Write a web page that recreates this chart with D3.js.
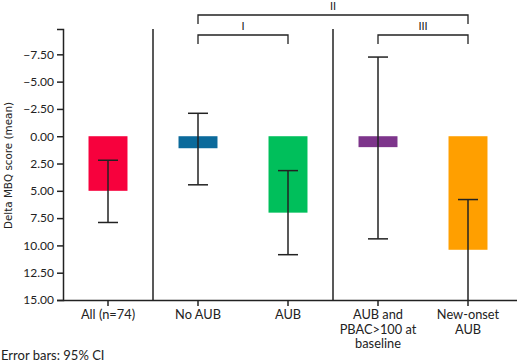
<!DOCTYPE html>
<html>
<head>
<meta charset="utf-8">
<script src="https://cdn.jsdelivr.net/npm/d3@7"></script>
<style>
  body { margin: 0; background: #fff; }
  svg { display: block; }
</style>
</head>
<body>
<div id="chart"></div>
<script>
// Chart data
const categories = ["All (n=74)", "No AUB", "AUB", "AUB and|PBAC>100 at|baseline", "New-onset|AUB"];
const means = [5.0, 1.1, 7.0, 1.0, 10.4];
const ciLow = [2.2, -2.1, 3.15, -7.25, 5.8];
const ciHigh = [7.9, 4.45, 10.85, 9.4, 15.0];
const barColors = ["#F7013D", "#0B6A9B", "#00BF5B", "#7D358B", "#FF9F00"];
const yTicks = [-7.5, -5, -2.5, 0, 2.5, 5, 7.5, 10, 12.5, 15];
// comparison brackets: [from category, to category, label, level]
const brackets = [
    {from: 1, to: 2, label: "I", level: 1},
    {from: 1, to: 4, label: "II", level: 0},
    {from: 3, to: 4, label: "III", level: 1}
];
const separators = [0, 2]; // vertical line after these category indexes

const width = 520, height = 363;
const margin = {left: 63, right: 7, top: 29, bottom: 63};

let svg = d3.select("#chart")
            .append("svg")
            .attr("width", width)
            .attr("height", height);

const data = categories.map((c, i) => ({name: c, mean: means[i], lo: ciLow[i], hi: ciHigh[i], color: barColors[i]}));

// Band scale for categories
let xScale = d3.scaleBand()
                .domain(categories)
                .range([margin.left, width - margin.right])
                .paddingInner(0.567)
                .paddingOuter(0.2835);

// Inverted y scale: negative values at the top
let yScale = d3.scaleLinear()
                .domain([-9.82, 15])
                .range([margin.top, height - margin.bottom]);

const font = "Lato, 'Open Sans', sans-serif";
const ink = "#222";

// Bars
svg.selectAll("rect.bar")
    .data(data)
    .enter()
    .append("rect")
        .attr("class", "bar")
        .attr("x", d => xScale(d.name))
        .attr("width", xScale.bandwidth())
        .attr("y", d => yScale(Math.min(0, d.mean)))
        .attr("height", d => Math.abs(yScale(d.mean) - yScale(0)))
        .attr("fill", d => d.color);

// Error bars
const capW = 20;
let err = svg.selectAll("g.err")
    .data(data)
    .enter()
    .append("g")
        .attr("class", "err")
        .attr("stroke", ink)
        .attr("stroke-width", 1.5);
err.append("line")
    .attr("x1", d => xScale(d.name) + xScale.bandwidth() / 2)
    .attr("x2", d => xScale(d.name) + xScale.bandwidth() / 2)
    .attr("y1", d => yScale(d.lo))
    .attr("y2", d => yScale(d.hi));
err.append("line")
    .attr("x1", d => xScale(d.name) + xScale.bandwidth() / 2 - capW / 2)
    .attr("x2", d => xScale(d.name) + xScale.bandwidth() / 2 + capW / 2)
    .attr("y1", d => yScale(d.lo))
    .attr("y2", d => yScale(d.lo));
err.filter(d => d.hi < 15).append("line")
    .attr("x1", d => xScale(d.name) + xScale.bandwidth() / 2 - capW / 2)
    .attr("x2", d => xScale(d.name) + xScale.bandwidth() / 2 + capW / 2)
    .attr("y1", d => yScale(d.hi))
    .attr("y2", d => yScale(d.hi));

// Group separator lines
const step = xScale.step();
separators.forEach(i => {
    const sx = xScale(categories[i]) + xScale.bandwidth() / 2 + step / 2;
    svg.append("line")
        .attr("x1", sx).attr("x2", sx)
        .attr("y1", yScale(-9.82)).attr("y2", yScale(15))
        .attr("stroke", ink)
        .attr("stroke-width", 1.5);
});

// Y axis
let yAxis = svg.append("g")
    .attr("transform", `translate(${margin.left},0)`)
    .call(d3.axisLeft(yScale)
            .tickValues(yTicks)
            .tickSize(6)
            .tickPadding(3)
            .tickFormat(d => d3.format(".2f")(d).replace("-", "\u2212")));
yAxis.select(".domain").attr("stroke", ink).attr("stroke-width", 1.5);
yAxis.selectAll(".tick line").attr("stroke", ink).attr("stroke-width", 1.5);
yAxis.selectAll(".tick text")
    .attr("fill", "#222")
    .style("font-family", font)
    .style("font-size", "12px");

// X axis
let xAxis = svg.append("g")
    .attr("transform", `translate(0,${yScale(15)})`)
    .call(d3.axisBottom(xScale).tickSize(6).tickSizeOuter(0).tickFormat(""));
xAxis.select(".domain").attr("stroke", ink).attr("stroke-width", 1.5)
    .attr("d", `M${margin.left},0.5H${width - 3}`);
xAxis.selectAll(".tick line").attr("stroke", ink).attr("stroke-width", 1.5);

// Multi-line category labels
xAxis.selectAll(".tick").each(function(d) {
    const t = d3.select(this).append("text")
        .attr("fill", "#222")
        .attr("text-anchor", "middle")
        .style("font-family", font)
        .style("font-size", "12.8px");
    d.split("|").forEach((line, k) => {
        t.append("tspan")
            .attr("x", 0)
            .attr("y", 19 + k * 14.5)
            .text(line);
    });
});

// Y axis title
svg.append("text")
    .attr("transform", `translate(12,${(yScale(-9.82) + yScale(15)) / 2 + 1}) rotate(-90)`)
    .attr("text-anchor", "middle")
    .attr("fill", "#222")
    .style("font-family", "'DejaVu Sans Condensed', 'Liberation Sans Narrow', sans-serif")
    .style("font-size", "11px")
    .attr("textLength", 127)
    .attr("lengthAdjust", "spacingAndGlyphs")
    .text("Delta MBQ score (mean)");

// Comparison brackets
const levelY = [15, 35];
brackets.forEach(b => {
    const x1 = xScale(categories[b.from]) + xScale.bandwidth() / 2;
    const x2 = xScale(categories[b.to]) + xScale.bandwidth() / 2;
    const by = levelY[b.level];
    svg.append("path")
        .attr("d", `M${x1},${by + 9}V${by}H${x2}V${by + 9}`)
        .attr("fill", "none")
        .attr("stroke", ink)
        .attr("stroke-width", 1.3);
    svg.append("text")
        .attr("x", (x1 + x2) / 2)
        .attr("y", by - 5)
        .attr("text-anchor", "middle")
        .attr("fill", "#222")
        .style("font-family", font)
        .style("font-size", "11px")
        .text(b.label);
});

// Footnote
svg.append("text")
    .attr("x", 1)
    .attr("y", 360)
    .attr("fill", "#222")
    .style("font-family", font)
    .style("font-size", "13px")
    .text("Error bars: 95% CI");
</script>
</body>
</html>
